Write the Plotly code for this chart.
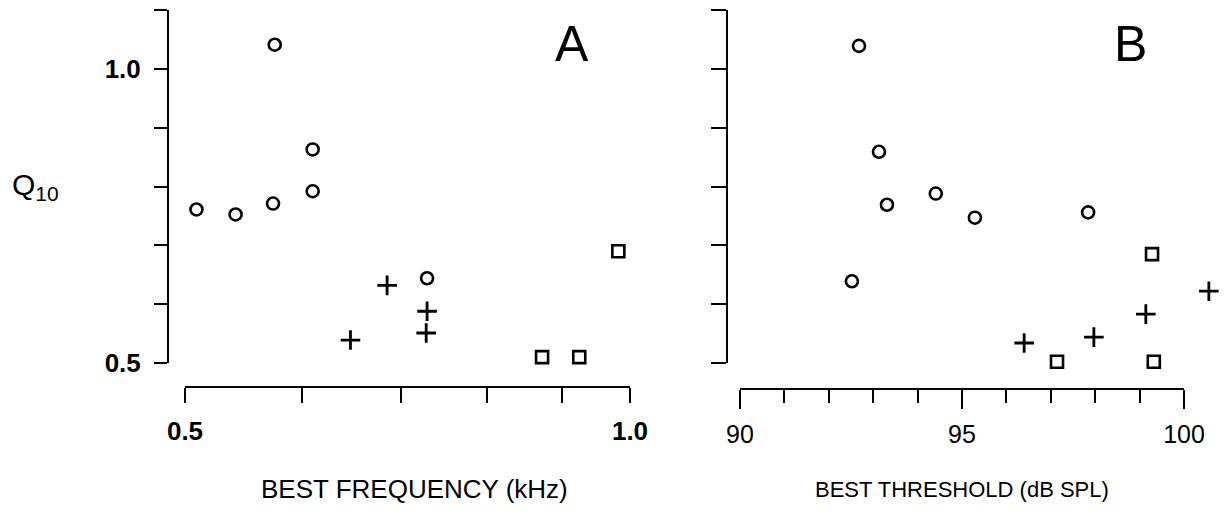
import plotly.graph_objects as go

W, H = 1229, 516

# Panel A: Q10 versus best frequency (kHz)
a_circle_bf = [0.575, 0.61, 0.61, 0.509, 0.541, 0.5735, 0.729]
a_circle_q10 = [1.041, 0.863, 0.792, 0.761, 0.7525, 0.771, 0.644]
a_cross_bf = [0.685, 0.729, 0.728, 0.647]
a_cross_q10 = [0.632, 0.588, 0.551, 0.539]
a_square_bf = [0.982, 0.872, 0.924]
a_square_q10 = [0.690, 0.510, 0.510]

# Panel B: Q10 versus best threshold (dB SPL)
b_circle_thr = [92.68, 93.13, 94.41, 93.31, 95.29, 92.52, 97.84]
b_circle_q10 = [1.039, 0.859, 0.788, 0.769, 0.747, 0.639, 0.756]
b_cross_thr = [96.40, 97.97, 99.14, 100.56]
b_cross_q10 = [0.534, 0.544, 0.583, 0.622]
b_square_thr = [99.28, 97.14, 99.32]
b_square_q10 = [0.685, 0.502, 0.502]

q10_ticks = [0.5, 0.6, 0.7, 0.8, 0.9, 1.0, 1.1]
q10_labels = ["0.5", "", "", "", "", "1.0", ""]
bf_ticks = [0.5, 0.6, 0.7, 0.8, 0.9, 1.0]
bf_labels = ["0.5", "", "", "", "", "1.0"]
thr_major = [90, 95, 100]
thr_minor = [91, 92, 93, 94, 96, 97, 98, 99]

FONT = "Liberation Sans, Arial, Helvetica, sans-serif"
INK = "black"

# threshold axis: drawn line covers 90-100, data area runs a little past 100
THR_LO, THR_HI, THR_VIEW_HI = 90, 100, 100.8
THR_X0, THR_X1 = 740, 1184
thr_px_per_db = (THR_X1 - THR_X0) / (THR_HI - THR_LO)


def px(x):
    return x / W


def py(y):
    return 1 - y / H


fig = go.Figure()

styles = {
    "circle": dict(symbol="circle-open", size=12, line=dict(width=2.6, color=INK), color=INK),
    "cross": dict(symbol="cross-thin-open", size=14, line=dict(width=2.8, color=INK), color=INK),
    "square": dict(symbol="square-open", size=12, line=dict(width=2.6, color=INK), color=INK),
}

for xs, ys, kind in [
    (a_circle_bf, a_circle_q10, "circle"),
    (a_cross_bf, a_cross_q10, "cross"),
    (a_square_bf, a_square_q10, "square"),
]:
    fig.add_trace(go.Scatter(x=xs, y=ys, mode="markers", marker=styles[kind],
                             xaxis="x", yaxis="y", cliponaxis=False, showlegend=False))

for xs, ys, kind in [
    (b_circle_thr, b_circle_q10, "circle"),
    (b_cross_thr, b_cross_q10, "cross"),
    (b_square_thr, b_square_q10, "square"),
]:
    fig.add_trace(go.Scatter(x=xs, y=ys, mode="markers", marker=styles[kind],
                             xaxis="x2", yaxis="y2", cliponaxis=False, showlegend=False))

axis_common = dict(showline=True, linecolor=INK, linewidth=2, ticks="outside",
                   tickcolor=INK, tickwidth=2, showgrid=False, zeroline=False,
                   fixedrange=True, automargin=False)

thr_axis = dict(axis_common)
thr_axis["showline"] = False
thr_x_end = THR_X0 + thr_px_per_db * (THR_VIEW_HI - THR_LO)

fig.update_layout(
    width=W, height=H,
    margin=dict(l=0, r=0, t=0, b=0, autoexpand=False),
    paper_bgcolor="white", plot_bgcolor="white",
    font=dict(family=FONT, color=INK),
    xaxis=dict(
        **axis_common,
        domain=[px(185), px(630)], anchor="free", position=py(387),
        type="log", range=[-0.30103, 0.0],
        tickmode="array", tickvals=bf_ticks, ticktext=bf_labels, ticklen=15,
        tickfont=dict(size=26, family=FONT, weight="bold"), ticklabelstandoff=6,
    ),
    yaxis=dict(
        **axis_common,
        domain=[py(363), py(10)], anchor="free", position=px(168),
        range=[0.5, 1.1],
        tickmode="array", tickvals=q10_ticks, ticktext=q10_labels, ticklen=13,
        tickfont=dict(size=26, family=FONT, weight="bold"), ticklabelstandoff=8,
    ),
    xaxis2=dict(
        **thr_axis,
        domain=[px(THR_X0), px(thr_x_end)], anchor="free", position=py(389),
        range=[THR_LO, THR_VIEW_HI],
        tickmode="array", tickvals=thr_major, ticktext=[str(v) for v in thr_major], ticklen=19,
        minor=dict(tickmode="array", tickvals=thr_minor,
                   ticklen=13, tickwidth=2, tickcolor=INK, ticks="outside"),
        tickfont=dict(size=25, family=FONT), ticklabelstandoff=4,
    ),
    yaxis2=dict(
        **axis_common,
        domain=[py(363), py(10)], anchor="free", position=px(727),
        range=[0.5, 1.1],
        tickmode="array", tickvals=q10_ticks, ticktext=[""] * len(q10_ticks), ticklen=15,
    ),
)

# baseline of the threshold axis, spanning 90-100 dB only
fig.add_shape(type="line", xref="x2", yref="paper",
              x0=THR_LO, x1=THR_HI, y0=py(389), y1=py(389),
              line=dict(color=INK, width=2))

annotations = [
    dict(text="Q<sub>10</sub>", x=px(10), y=py(186), xanchor="left", yanchor="middle",
         font=dict(size=30, family=FONT)),
    dict(text="A", x=px(572), y=py(44), xanchor="center", yanchor="middle",
         font=dict(size=50, family=FONT)),
    dict(text="B", x=px(1130), y=py(44), xanchor="center", yanchor="middle",
         font=dict(size=50, family=FONT)),
    dict(text="BEST FREQUENCY (kHz)", x=px(414), y=py(489), xanchor="center", yanchor="middle",
         font=dict(size=26, family=FONT)),
    dict(text="BEST THRESHOLD (dB SPL)", x=px(962), y=py(489), xanchor="center", yanchor="middle",
         font=dict(size=22, family=FONT)),
]
for a in annotations:
    fig.add_annotation(xref="paper", yref="paper", showarrow=False, **a)

fig.write_html("out.html")
